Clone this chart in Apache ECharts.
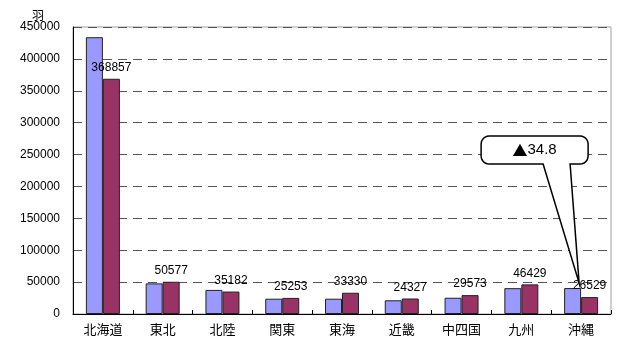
<!DOCTYPE html>
<html>
<head>
<meta charset="utf-8">
<script src="https://cdn.jsdelivr.net/npm/echarts@6/dist/echarts.min.js"></script>
<style>
  html, body { margin: 0; padding: 0; background: #fff; }
  #chart { width: 617px; height: 339px; }
</style>
</head>
<body>
<div id="chart"></div>
<script>
// Regions (x axis)
const regions = ['北海道', '東北', '北陸', '関東', '東海', '近畿', '中四国', '九州', '沖縄'];
// Previous period counts (light blue bars)
const prevValues = [434000, 48000, 37800, 24000, 24000, 21500, 25500, 40500, 40689];
// Current period counts (purple bars, labelled)
const currValues = [368857, 50577, 35182, 25253, 33330, 24327, 29573, 46429, 26529];
// Y axis scale
const yMin = 0, yMax = 450000, yStep = 50000;
const unitLabel = '羽';
// Region highlighted with a callout
const calloutRegion = '沖縄';

const fontLatin = '"Liberation Sans", Arial, "Noto Sans CJK JP", sans-serif';
const fontCJK = '"Noto Sans CJK JP", "Liberation Sans", sans-serif';

const chart = echarts.init(document.getElementById('chart'), null, { renderer: 'canvas' });

const option = {
  animation: false,
  backgroundColor: '#ffffff',
  grid: {
    left: 73, top: 27, right: 6, bottom: 25,
    show: true, borderColor: '#a0a0a0', borderWidth: 1, backgroundColor: 'transparent'
  },
  xAxis: {
    type: 'category',
    data: regions,
    axisLine: { lineStyle: { color: '#000', width: 1 } },
    axisTick: { show: true, inside: true, length: 4, lineStyle: { color: '#000' } },
    axisLabel: { color: '#000', fontSize: 13, fontFamily: fontCJK, margin: 9 },
    splitLine: { show: false }
  },
  yAxis: {
    type: 'value',
    min: yMin, max: yMax, interval: yStep,
    name: unitLabel,
    nameLocation: 'end',
    nameGap: 5,
    nameTextStyle: { color: '#000', fontSize: 12, fontFamily: fontCJK, align: 'right', padding: [0, 29, 0, 0] },
    axisLine: { show: true, lineStyle: { color: '#000', width: 1 } },
    axisTick: { show: false },
    axisLabel: {
      color: '#000', fontSize: 12, fontFamily: fontLatin, margin: 13,
      formatter: v => String(v)
    },
    splitLine: { show: true, lineStyle: { color: '#555', width: 1, type: [9, 6] } }
  },
  series: [
    {
      name: 'prev',
      type: 'bar',
      data: prevValues,
      barWidth: 17,
      barGap: '0%',
      itemStyle: { color: '#9999ff', borderColor: '#222', borderWidth: 1 }
    },
    {
      name: 'curr',
      type: 'bar',
      data: currValues,
      barWidth: 17,
      itemStyle: { color: '#993366', borderColor: '#222', borderWidth: 1 },
      label: {
        show: true, position: 'top', distance: 5,
        color: '#000', fontSize: 12, fontFamily: fontLatin
      }
    }
  ]
};

chart.setOption(option);

// Quarter-circle corner points for the rounded callout outline
function corner(cx, cy, rad, a0, a1, out) {
  const steps = 6;
  for (let i = 0; i <= steps; i++) {
    const a = a0 + (a1 - a0) * i / steps;
    out.push([cx + rad * Math.cos(a), cy + rad * Math.sin(a)]);
  }
}

// Callout bubble showing the percentage decrease for the highlighted region
function drawCallout() {
  const idx = regions.indexOf(calloutRegion);
  const prev = prevValues[idx], curr = currValues[idx];
  const pct = ((prev - curr) / prev * 100).toFixed(1);
  const tip = chart.convertToPixel({ gridIndex: 0 }, [calloutRegion, prev]);
  const tx = tip[0] - 2, ty = tip[1] - 5;

  const l = tx - 98, r = tx + 9, t = ty - 147, b = ty - 119, rad = 8;
  const b1 = tx - 36, b2 = tx - 9;
  const PI = Math.PI;
  const pts = [];
  corner(l + rad, t + rad, rad, PI, 1.5 * PI, pts);       // top-left
  corner(r - rad, t + rad, rad, 1.5 * PI, 2 * PI, pts);   // top-right
  corner(r - rad, b - rad, rad, 0, 0.5 * PI, pts);        // bottom-right
  pts.push([b2, b], [tx, ty], [b1, b]);                   // pointer
  corner(l + rad, b - rad, rad, 0.5 * PI, PI, pts);       // bottom-left

  chart.setOption({
    graphic: [
      {
        type: 'polygon',
        shape: { pointsFromData: false, points: pts },
        style: { fill: '#fff', stroke: '#000', lineWidth: 1.5 },
        z: 100
      },
      {
        type: 'text',
        x: (l + r) / 2, y: (t + b) / 2,
        style: {
          text: '{tri|▲}{num|' + pct + '}',
          rich: {
            tri: { fontSize: 15, fontFamily: 'Noto Sans CJK JP', fill: '#000' },
            num: { fontSize: 15, fontFamily: 'Liberation Sans', fill: '#000' }
          },
          fill: '#000',
          align: 'center', verticalAlign: 'middle'
        },
        z: 101
      }
    ]
  });
}
drawCallout();
</script>
</body>
</html>
